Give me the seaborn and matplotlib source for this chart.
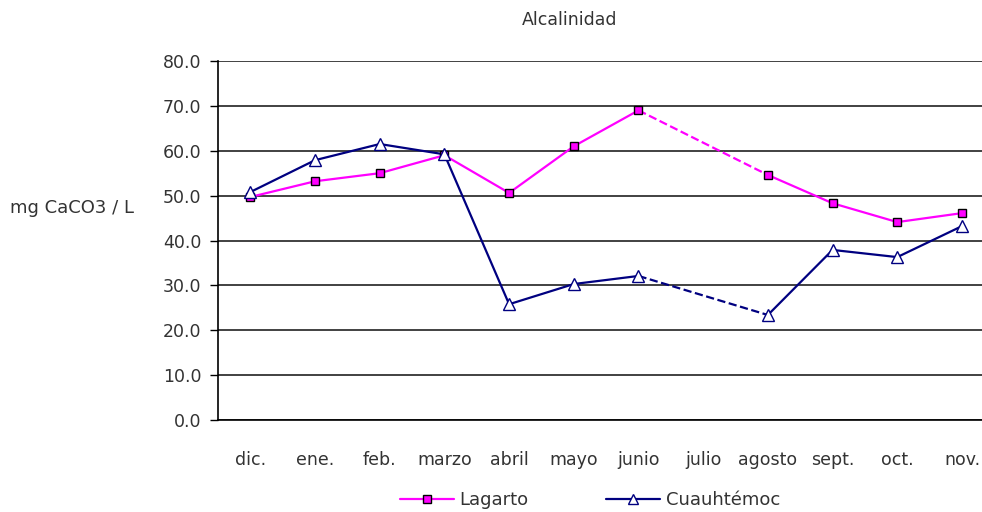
import numpy as np
import pandas as pd
import matplotlib
matplotlib.use("Agg")
import matplotlib.pyplot as plt
import seaborn as sns
from matplotlib.lines import Line2D

meses = ["dic.", "ene.", "feb.", "marzo", "abril", "mayo", "junio",
         "julio", "agosto", "sept.", "oct.", "nov."]
lagarto = [49.7, 53.2, 55.0, 59.0, 50.6, 61.0, 69.0, np.nan, 54.6, 48.3, 44.1, 46.1]
cuauhtemoc = [50.8, 57.9, 61.5, 59.2, 25.8, 30.3, 32.1, np.nan, 23.4, 37.9, 36.3, 43.2]

sns.set_style("white")
plt.rcParams['font.family'] = ['DejaVu Sans']
txt = "#333333"

fig = plt.figure(figsize=(9.82, 5.12), dpi=100)
ax = fig.add_axes([218 / 982, 1 - 420 / 512, 1 - 218 / 982, (420 - 61) / 512])

df = pd.DataFrame({"pos": np.arange(len(meses)), "mes": meses,
                   "Lagarto": lagarto, "Cuauhtémoc": cuauhtemoc})

estilos = {
    "Lagarto": dict(color="#FF00FF", marker="s", markersize=6,
                    markerfacecolor="#FF00FF", markeredgecolor="black", markeredgewidth=1),
    "Cuauhtémoc": dict(color="#000080", marker="^", markersize=8,
                       markerfacecolor="white", markeredgecolor="#000080", markeredgewidth=1),
}

for serie in ["Lagarto", "Cuauhtémoc"]:
    st = estilos[serie]
    valid = df.dropna(subset=[serie])
    # tramos continuos (se corta donde falta el dato)
    grupos = (df[serie].isna()).cumsum()[valid.index]
    for _, tramo in valid.groupby(grupos):
        sns.lineplot(data=tramo, x="pos", y=serie, ax=ax, color=st["color"],
                     linewidth=1.6, estimator=None, sort=False, zorder=3)
    # tramo punteado sobre el mes faltante
    falt = df.index[df[serie].isna()]
    for i in falt:
        seg = df.loc[[i - 1, i + 1]]
        sns.lineplot(data=seg, x="pos", y=serie, ax=ax, color=st["color"],
                     linewidth=1.6, linestyle="--", estimator=None, zorder=3)
    ax.plot(valid["pos"], valid[serie], linestyle="none", zorder=4,
            marker=st["marker"], markersize=st["markersize"],
            markerfacecolor=st["markerfacecolor"], markeredgecolor=st["markeredgecolor"],
            markeredgewidth=st["markeredgewidth"])

ax.set_ylim(0, 80)
ax.set_yticks(np.arange(0, 81, 10))
ax.set_yticklabels([f"{v:.1f}" for v in np.arange(0, 81, 10)], fontsize=12.5, color=txt)
ax.set_xlim(-0.5, 11.31)
ax.set_xticks(np.arange(len(meses)))
ax.set_xticklabels(meses, fontsize=12.5, color=txt)
ax.set_xticks(np.arange(len(meses)) - 0.5, minor=True)
ax.tick_params(axis="x", which="major", length=0, pad=22)
ax.tick_params(axis="x", which="minor", length=5, width=1, color="black", direction="out")
ax.tick_params(axis="y", length=6, width=1, color="black", direction="out", pad=6, left=True)
ax.yaxis.grid(True, color="#333333", linewidth=1.3)
ax.set_axisbelow(True)
for s in ["top", "right"]:
    ax.spines[s].set_visible(False)
for s in ["left", "bottom"]:
    ax.spines[s].set_color("black")
    ax.spines[s].set_linewidth(1.2)
ax.set_xlabel("")
ax.set_ylabel("")

fig.text(570 / 982, 1 - 20 / 512, "Alcalinidad", ha="center", va="center", fontsize=12.5, color=txt)
fig.text(10 / 982, 1 - 208 / 512, "mg CaCO3 / L", ha="left", va="center", fontsize=13, color=txt)

handles = [
    Line2D([], [], color="#FF00FF", linewidth=1.6, **{k: v for k, v in estilos["Lagarto"].items() if k != "color"}),
    Line2D([], [], color="#000080", linewidth=1.6, **{k: v for k, v in estilos["Cuauhtémoc"].items() if k != "color"}),
]
handles[0].set_markersize(6)
handles[1].set_markersize(7)
leg = fig.legend(handles, ["Lagarto", "Cuauhtémoc"], loc="center", ncol=2,
                 bbox_to_anchor=(590 / 982, 1 - 500 / 512), frameon=False,
                 fontsize=13, handlelength=3.0, columnspacing=4.3, handletextpad=0.3)
for t in leg.get_texts():
    t.set_color(txt)

fig.savefig("out.png", dpi=100)
